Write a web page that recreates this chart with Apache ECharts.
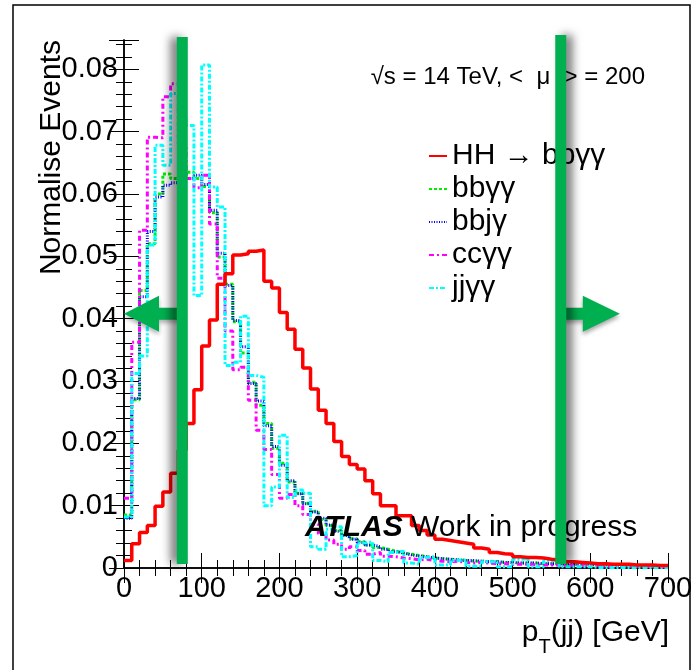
<!DOCTYPE html>
<html lang="en">
<head>
<meta charset="UTF-8">
<title>pT(jj)</title>
<style>
  html, body { margin: 0; padding: 0; background: #fff; }
  #main { width: 694px; height: 670px; }
</style>
</head>
<body>
<div id="main"></div>
<script src="https://cdn.jsdelivr.net/npm/echarts@6/dist/echarts.min.js"></script>
<script>
// histogram contents, 10 GeV bins from 0 to 700 GeV
const binWidth = 10;

const hhBbyy = [
  0.0012, 0.0039, 0.0057, 0.0068, 0.0099, 0.0122, 0.0152, 0.0189, 0.0232, 0.0286,
  0.0356, 0.0398, 0.0455, 0.0472, 0.0502, 0.0504, 0.0508, 0.0510, 0.0460, 0.0449,
  0.0410, 0.0383, 0.0351, 0.0321, 0.0287, 0.0253, 0.0232, 0.0203, 0.0179, 0.0166,
  0.0159, 0.0140, 0.0119, 0.0100, 0.0100, 0.0084, 0.0084, 0.0068, 0.0060, 0.0053,
  0.0046, 0.0044, 0.0042, 0.0040, 0.0038, 0.0032, 0.0030, 0.0025, 0.0023, 0.0022,
  0.0018, 0.0017, 0.0017, 0.0016, 0.0014, 0.0013, 0.0010, 0.0010, 0.0009, 0.0008,
  0.0007, 0.0007, 0.0006, 0.0006, 0.0006, 0.0005, 0.0005, 0.0005, 0.0004, 0.0004
];
const bbyy = [
  0.0085, 0.0270, 0.0445, 0.0520, 0.0600, 0.0632, 0.0625, 0.0630, 0.0635, 0.0625,
  0.0612, 0.0570, 0.0499, 0.0455, 0.0395, 0.0345, 0.0298, 0.0261, 0.0232, 0.0192,
  0.0168, 0.0138, 0.0120, 0.0104, 0.0091, 0.0078, 0.0068, 0.0060, 0.0053, 0.0047,
  0.0042, 0.0037, 0.0033, 0.0030, 0.0027, 0.0024, 0.0022, 0.0020, 0.0018, 0.0016,
  0.0015, 0.0014, 0.0013, 0.0012, 0.0011, 0.0011, 0.0010, 0.0010, 0.0009, 0.0009,
  0.0008, 0.0008, 0.0008, 0.0007, 0.0007, 0.0007, 0.0006, 0.0006, 0.0006, 0.0005,
  0.0005, 0.0005, 0.0004, 0.0004, 0.0004, 0.0004, 0.0003, 0.0003, 0.0003, 0.0003
];
const bbjy = [
  0.0080, 0.0272, 0.0435, 0.0540, 0.0595, 0.0614, 0.0618, 0.0625, 0.0625, 0.0630,
  0.0615, 0.0574, 0.0505, 0.0453, 0.0397, 0.0355, 0.0296, 0.0268, 0.0228, 0.0195,
  0.0165, 0.0140, 0.0119, 0.0103, 0.0090, 0.0080, 0.0069, 0.0059, 0.0052, 0.0046,
  0.0041, 0.0037, 0.0034, 0.0030, 0.0026, 0.0024, 0.0021, 0.0019, 0.0018, 0.0016,
  0.0015, 0.0014, 0.0013, 0.0012, 0.0012, 0.0011, 0.0010, 0.0010, 0.0009, 0.0009,
  0.0008, 0.0008, 0.0008, 0.0007, 0.0007, 0.0007, 0.0006, 0.0006, 0.0006, 0.0006,
  0.0005, 0.0005, 0.0005, 0.0004, 0.0004, 0.0004, 0.0004, 0.0003, 0.0003, 0.0003
];
const ccyy = [
  0.0112, 0.0362, 0.0542, 0.0691, 0.0690, 0.0756, 0.0777, 0.0680, 0.0625, 0.0610,
  0.0630, 0.0552, 0.0465, 0.0380, 0.0318, 0.0322, 0.0269, 0.0221, 0.0190, 0.0150,
  0.0112, 0.0118, 0.0100, 0.0086, 0.0070, 0.0055, 0.0045, 0.0038, 0.0030, 0.0034,
  0.0028, 0.0022, 0.0025, 0.0019, 0.0018, 0.0016, 0.0015, 0.0013, 0.0014, 0.0012,
  0.0011, 0.0010, 0.0011, 0.0009, 0.0008, 0.0009, 0.0008, 0.0007, 0.0007, 0.0006,
  0.0006, 0.0006, 0.0005, 0.0005, 0.0005, 0.0005, 0.0004, 0.0004, 0.0004, 0.0004,
  0.0004, 0.0003, 0.0003, 0.0003, 0.0003, 0.0003, 0.0003, 0.0002, 0.0002, 0.0002
];
const jjyy = [
  0.0082, 0.0312, 0.0340, 0.0518, 0.0678, 0.0646, 0.0761, 0.0720, 0.0710, 0.0437,
  0.0807, 0.0611, 0.0579, 0.0325, 0.0330, 0.0404, 0.0309, 0.0306, 0.0100, 0.0130,
  0.0213, 0.0113, 0.0125, 0.0120, 0.0034, 0.0030, 0.0062, 0.0066, 0.0018, 0.0020,
  0.0040, 0.0042, 0.0012, 0.0010, 0.0025, 0.0027, 0.0008, 0.0006, 0.0017, 0.0018,
  0.0005, 0.0005, 0.0012, 0.0013, 0.0003, 0.0003, 0.0010, 0.0010, 0.0002, 0.0002,
  0.0014, 0.0015, 0.0002, 0.0002, 0.0012, 0.0014, 0.0002, 0.0002, 0.0002, 0.0002,
  0.0001, 0.0001, 0.0001, 0.0001, 0.0001, 0.0001, 0.0001, 0.0001, 0.0001, 0.0001
];

const seriesNames = ['HH \u2192 bb\u03b3\u03b3', 'bb\u03b3\u03b3', 'bbj\u03b3', 'cc\u03b3\u03b3', 'jj\u03b3\u03b3'];
const seriesValues = [hhBbyy, bbyy, bbjy, ccyy, jjyy];

// axis ranges / ticks
const xMin = 0, xMax = 700, xMajor = 100, xMinor = 20;
const yMin = 0, yMax = 0.0847, yMajor = 0.01, yMinor = 0.002;
const xTitle = 'p{s|T}(jj) [GeV]';
const yTitle = 'Normalise Events';

// the two cuts drawn on top of the plot
const cutLow = 75, cutHigh = 562, arrowLevel = 0.0408;

const FONT = '"Liberation Sans", Arial, Helvetica, sans-serif';
const colors = ['#ff0000', '#00ee00', '#0000ff', '#ff00ff', '#00ffff'];
const dashes = ['solid', [3, 2], [1, 1.5], [5, 3, 2, 3], [5, 2, 2, 2]];

// bin contents -> step line points (left edge of every bin + last right edge)
function toSteps(vals) {
  const pts = vals.map((v, i) => [xMin + i * binWidth, v]);
  pts.push([xMin + vals.length * binWidth, vals[vals.length - 1]]);
  return pts;
}

const isMultiple = (v, step) => Math.abs(v / step - Math.round(v / step)) < 1e-6;

function xAxisOf(grid, pos, fine) {
  return {
    gridIndex: grid, type: 'value', position: pos,
    min: xMin, max: xMax, interval: fine ? xMinor : xMajor,
    axisLine: { show: fine, lineStyle: { color: '#000', width: 1.5 } },
    axisTick: { inside: true, length: fine ? 8 : 15, lineStyle: { color: '#000', width: 1 } },
    axisLabel: { show: false },
    splitLine: { show: false }
  };
}
function yAxisOf(grid, pos, fine) {
  return {
    gridIndex: grid, type: 'value', position: pos,
    min: yMin, max: yMax, interval: fine ? yMinor : yMajor,
    axisLine: { show: fine, lineStyle: { color: '#000', width: 1.5 } },
    axisTick: { inside: true, length: fine ? 8 : 15, lineStyle: { color: '#000', width: 1 } },
    axisLabel: { show: false },
    splitLine: { show: false }
  };
}

const xBottom = xAxisOf(0, 'bottom', true);
xBottom.axisLabel = {
  show: true, margin: 6, color: '#000', fontSize: 29, fontFamily: FONT,
  formatter: v => isMultiple(v, xMajor) ? String(v) : ''
};

const yLeft = yAxisOf(0, 'left', true);
yLeft.axisLabel = {
  show: true, margin: 6, color: '#000', fontSize: 29, fontFamily: FONT,
  formatter: v => isMultiple(v, yMajor) ? (v === 0 ? '0' : v.toFixed(2)) : ''
};

const gridBox = { left: 124, top: 40, right: 26, bottom: 102, containLabel: false, outerBoundsMode: 'none' };

var chart = echarts.init(document.getElementById('main'));

var option = {
  animation: false,
  backgroundColor: '#fff',
  grid: [Object.assign({}, gridBox), Object.assign({}, gridBox)],
  xAxis: [xBottom, xAxisOf(0, 'top', true), xAxisOf(1, 'bottom', false), xAxisOf(1, 'top', false)],
  yAxis: [yLeft, yAxisOf(0, 'right', true), yAxisOf(1, 'left', false), yAxisOf(1, 'right', false)],
  legend: {
    orient: 'vertical', left: 428, top: 141, padding: 0, itemGap: 3,
    itemWidth: 18, itemHeight: 14, selectedMode: false,
    itemStyle: { opacity: 0 },
    textStyle: { fontSize: 30, fontFamily: FONT, color: '#000', lineHeight: 30 },
    data: seriesNames
  },
  series: seriesNames.map((name, i) => ({
    name: name,
    type: 'line',
    xAxisIndex: 0,
    yAxisIndex: 0,
    step: 'end',
    symbol: 'none',
    clip: true,
    z: i === 0 ? 3 : 2,
    color: colors[i],
    lineStyle: { color: colors[i], width: i === 0 ? 3.5 : 3, type: dashes[i] },
    data: toSteps(seriesValues[i])
  }))
};
chart.setOption(option);

// annotations: cut lines with arrows, placed through the axes
const px = p => chart.convertToPixel({ xAxisIndex: 0, yAxisIndex: 0 }, p);
const [lowX, yBottom] = px([cutLow, yMin]);
const [highX, yTop] = px([cutHigh, yMax]);
const [zeroX, arrowY] = px([xMin, arrowLevel]);
const xEnd = px([xMax, yMin])[0];
const barW = 11, headH = 18, shaftH = 6;
const green = '#00b050';
const tipRight = px([638, arrowLevel])[0];

chart.setOption({
  graphic: { elements: [
    {
      type: 'rect', z: 0, silent: true,
      shape: { x: 13, y: 5, width: 677, height: 700 },
      style: { fill: 'none', stroke: '#000', lineWidth: 1.5 }
    },
    // axis titles
    {
      type: 'text', x: 52, y: yTop, rotation: Math.PI / 2, z: 10,
      style: { text: yTitle, font: '30px ' + FONT, fill: '#000', align: 'right', verticalAlign: 'middle' }
    },
    {
      type: 'text', x: xEnd + 1, y: 618, z: 10,
      style: {
        text: xTitle, font: '30px ' + FONT, fill: '#000', align: 'right', verticalAlign: 'top',
        rich: { s: { fontSize: 20, fontFamily: FONT, fill: '#000', lineHeight: 20, padding: [28, 0, 0, 0] } }
      }
    },
    {
      type: 'text', right: 49, top: 65, z: 10,
      style: { text: '\u221as = 14 TeV, <  \u03bc  > = 200', font: '24px ' + FONT, fill: '#000' }
    },
    {
      type: 'text', left: 305, top: 513, z: 10,
      style: {
        text: '{a|ATLAS} Work in progress', font: '30px ' + FONT, fill: '#000',
        rich: { a: { fontStyle: 'italic', fontWeight: 'bold', fontSize: 30, fontFamily: FONT, fill: '#000' } }
      }
    },
    {
      type: 'rect', z: 100, silent: true,
      shape: { x: lowX - barW / 2, y: yTop - 3, width: barW, height: yBottom - yTop - 1 },
      style: { fill: green, shadowColor: 'rgba(0,0,0,0.55)', shadowBlur: 10, shadowOffsetX: -6 }
    },
    {
      type: 'rect', z: 100, silent: true,
      shape: { x: highX - barW / 2, y: yTop - 5, width: barW, height: yBottom - yTop + 1 },
      style: { fill: green, shadowColor: 'rgba(0,0,0,0.55)', shadowBlur: 10, shadowOffsetX: 6 }
    },
    {
      type: 'polygon', z: 99, silent: true,
      shape: { points: [
        [zeroX, arrowY], [zeroX + 35, arrowY - headH], [zeroX + 35, arrowY - shaftH],
        [lowX, arrowY - shaftH], [lowX, arrowY + shaftH], [zeroX + 35, arrowY + shaftH],
        [zeroX + 35, arrowY + headH]
      ] },
      style: { fill: green, shadowColor: 'rgba(0,0,0,0.3)', shadowBlur: 4, shadowOffsetY: 3 }
    },
    {
      type: 'polygon', z: 99, silent: true,
      shape: { points: [
        [highX, arrowY - shaftH], [tipRight - 37, arrowY - shaftH], [tipRight - 37, arrowY - headH],
        [tipRight, arrowY], [tipRight - 37, arrowY + headH], [tipRight - 37, arrowY + shaftH],
        [highX, arrowY + shaftH]
      ] },
      style: { fill: green, shadowColor: 'rgba(0,0,0,0.35)', shadowBlur: 4, shadowOffsetY: 3 }
    }
  ] }
});
</script>
</body>
</html>
